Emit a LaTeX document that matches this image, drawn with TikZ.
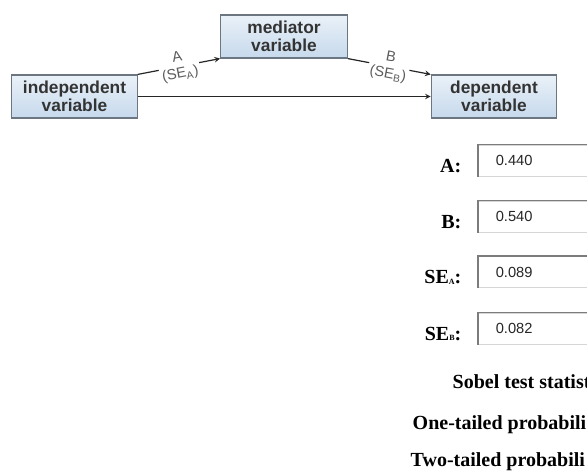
\documentclass[tikz,border=0pt]{standalone}
\usepackage{fontspec}
\setmainfont{Liberation Serif}
\setsansfont{Liberation Sans}
\usepackage{xcolor}
\usetikzlibrary{arrows, positioning, calc}

\definecolor{boxedge}{HTML}{6B7681}
\definecolor{boxtop}{HTML}{EAF1F8}
\definecolor{boxbot}{HTML}{C6D9EC}
\definecolor{labgray}{HTML}{5C5C5C}
\definecolor{fielddark}{HTML}{7C7C7C}
\definecolor{fieldlight}{HTML}{D6D6D6}

\newcommand{\subcap}[1]{\raisebox{-0.4pt}{\fontsize{6}{6}\selectfont #1}}

\begin{document}
\begin{tikzpicture}[
    x=0.75pt, y=-0.75pt,
    var/.style={draw=boxedge, line width=0.9pt, top color=boxtop, bottom color=boxbot,
        minimum width=94pt, minimum height=32.25pt, align=center, inner sep=1pt,
        font=\sffamily\bfseries\fontsize{13}{13.5}\selectfont, text=black!80},
    arrow/.style={->, >=stealth, line width=0.9pt, draw=black!85},
    coef/.style={font=\sffamily\fontsize{11}{12.5}\selectfont, text=labgray, fill=white,
        inner sep=1.5pt, align=center, sloped},
    field/.style={anchor=west, draw=fieldlight, fill=white, line width=0.75pt,
        minimum height=23.25pt, text width=110pt, inner xsep=13pt, align=left,
        font=\sffamily\fontsize{11}{11}\selectfont, text=black!85},
    fieldname/.style={anchor=base east, font=\bfseries\fontsize{15}{15}\selectfont},
    result/.style={anchor=base west, font=\bfseries\fontsize{15}{15}\selectfont}
]
\useasboundingbox (0,0) rectangle (587,472);
\clip (0,0) rectangle (587,472);

% path diagram
\node (indep) [var] at (74.5,96.5) {independent\\variable};
\node (med) [var, minimum width=95pt] at (284,36.5) {mediator\\variable};
\node (dep) [var] at (494,96.5) {dependent\\variable};

\draw[arrow] (indep.north east) -- node[coef] {A\\(SE\textsubscript{A})} (med.south west);
\draw[arrow] (med.south east) -- node[coef] {B\\(SE\textsubscript{B})} (dep.north west);
\draw[arrow] (indep.east) -- (dep.west);

% input form
\foreach \yy/\lab/\val/\nm in {160.5/{A:}/0.440/fa, 216.5/{B:}/0.540/fb,
        272/{SE\subcap{A}:}/0.089/fsa, 328.5/{SE\subcap{B}:}/0.082/fsb} {
    \node (\nm) [field] at (478,\yy) {\val};
    \draw[fielddark, line width=1.4pt] (\nm.south west) |- (\nm.north east);
    \node (\nm lab) [fieldname] at (466,\yy+11.5) {\lab};
}

\node (sobel) [result] at (448,388) {Sobel test statist};
\node (onetail) [result] at (408,429) {One-tailed probabili};
\node (twotail) [result] at (406,466) {Two-tailed probabili};

\end{tikzpicture}
\end{document}
